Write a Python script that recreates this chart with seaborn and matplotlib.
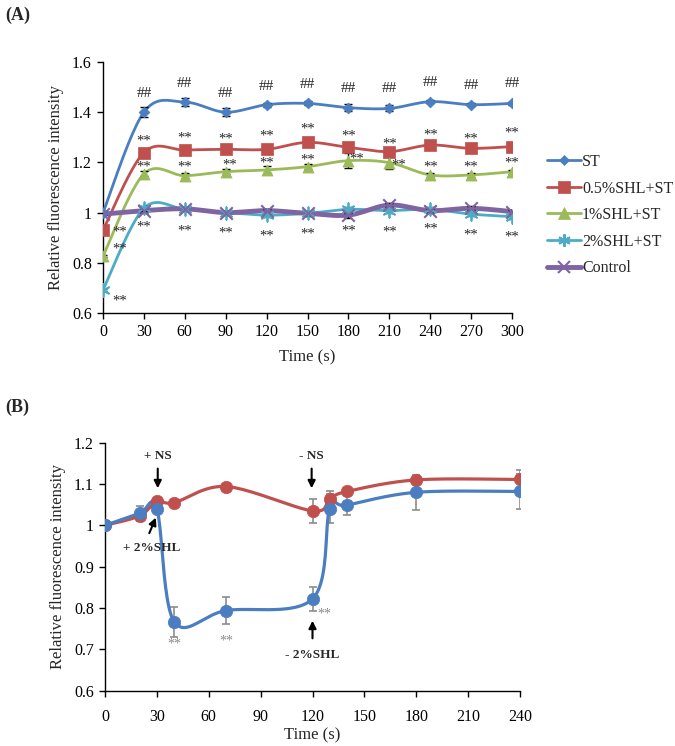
import numpy as np
import pandas as pd
import matplotlib
matplotlib.use("Agg")
import matplotlib.pyplot as plt
from matplotlib.lines import Line2D
from matplotlib.ticker import FuncFormatter, MultipleLocator
import seaborn as sns

# ---------------- Data: panel A ----------------
time_a = [0, 30, 60, 90, 120, 150, 180, 210, 240, 270, 300]
st = [1.00, 1.40, 1.44, 1.40, 1.43, 1.435, 1.418, 1.415, 1.442, 1.430, 1.435]
st_err = [0.005, 0.02, 0.015, 0.015, 0.008, 0.008, 0.015, 0.012, 0.006, 0.006, 0.006]
shl05 = [0.93, 1.239, 1.249, 1.252, 1.252, 1.280, 1.260, 1.243, 1.269, 1.256, 1.263]
shl05_err = [0.005, 0.008, 0.008, 0.008, 0.008, 0.015, 0.010, 0.010, 0.008, 0.008, 0.008]
shl1 = [0.827, 1.154, 1.147, 1.163, 1.170, 1.183, 1.207, 1.199, 1.150, 1.150, 1.163]
shl1_err = [0.005, 0.010, 0.010, 0.010, 0.015, 0.010, 0.030, 0.025, 0.008, 0.008, 0.008]
shl2 = [0.692, 1.017, 1.013, 1.000, 0.990, 0.997, 1.013, 1.008, 1.013, 0.994, 0.984]
shl2_err = [0.005, 0.010, 0.008, 0.008, 0.008, 0.010, 0.008, 0.008, 0.010, 0.008, 0.008]
control = [0.994, 1.008, 1.015, 1.000, 1.008, 0.997, 0.990, 1.030, 1.008, 1.017, 1.004]
control_err = [0.005, 0.008, 0.008, 0.008, 0.008, 0.010, 0.010, 0.008, 0.008, 0.008, 0.008]
series_names = ["ST", "0.5%SHL+ST", "1%SHL+ST", "2%SHL+ST", "Control"]

# annotation positions panel A
hash_y = [None, 1.476, 1.515, 1.476, 1.504, 1.511, 1.495, 1.495, 1.518, 1.508, 1.515]
star_red_y = [0.93, 1.292, 1.305, 1.303, 1.312, 1.340, 1.312, 1.283, 1.316, 1.303, 1.326]
star_red_x = [7, 30, 60, 90, 120, 150, 180, 210, 240, 270, 300]
star_green_y = [0.862, 1.19, 1.19, 1.199, 1.207, 1.216, 1.223, 1.196, 1.19, 1.19, 1.207]
star_green_x = [7, 30, 60, 93, 120, 150, 186, 217, 240, 270, 300]
star_low_y = [0.656, 0.950, 0.933, 0.928, 0.915, 0.924, 0.933, 0.930, 0.941, 0.920, 0.911]
star_low_x = [7, 30, 60, 90, 120, 150, 180, 210, 240, 270, 300]

# ---------------- Data: panel B ----------------
time_b = [0, 20, 30, 40, 70, 120, 130, 140, 180, 240]
ns = [1.000, 1.023, 1.058, 1.055, 1.094, 1.035, 1.064, 1.082, 1.110, 1.111]
ns_err = [0.0, 0.012, 0.0, 0.0, 0.0, 0.030, 0.018, 0.0, 0.010, 0.024]
shl2b = [1.000, 1.029, 1.039, 0.767, 0.794, 0.822, 1.040, 1.049, 1.080, 1.082]
shl2b_err = [0.0, 0.018, 0.0, 0.036, 0.033, 0.028, 0.035, 0.025, 0.043, 0.043]

# ---------------- Style ----------------
sns.set_style("white")
plt.rcParams["font.family"] = ["Liberation Serif", "DejaVu Serif"]
plt.rcParams["mathtext.fontset"] = "stix"

W, H = 675, 746
fig = plt.figure(figsize=(W / 100, H / 100), dpi=100)


def smooth(x, y, n=24):
    """Excel-like smoothed line: cubic Bezier with Catmull-Rom control points."""
    P = np.column_stack([np.asarray(x, float), np.asarray(y, float)])
    m = len(P)
    out = [P[0]]
    t = np.linspace(0, 1, n)[1:]
    for i in range(m - 1):
        p0 = P[i - 1] if i > 0 else P[i]
        p1, p2 = P[i], P[i + 1]
        p3 = P[i + 2] if i + 2 < m else P[i + 1]
        c1 = p1 + (p2 - p0) / 6.0
        c2 = p2 - (p3 - p1) / 6.0
        seg = ((1 - t) ** 3)[:, None] * p1 + (3 * (1 - t) ** 2 * t)[:, None] * c1 \
            + (3 * (1 - t) * t ** 2)[:, None] * c2 + (t ** 3)[:, None] * p2
        out.extend(seg)
    out = np.array(out)
    return out[:, 0], out[:, 1]


def style_axes(ax, xpad):
    for s in ["top", "right"]:
        ax.spines[s].set_visible(False)
    for s in ["left", "bottom"]:
        ax.spines[s].set_color("black")
        ax.spines[s].set_linewidth(1.0)
    ax.tick_params(direction="out", length=4, width=1, colors="black",
                   labelsize=11.5, left=True, bottom=True, pad=4)
    ax.tick_params(axis="x", pad=xpad)
    ax.yaxis.set_major_formatter(FuncFormatter(lambda v, p: "%g" % round(v, 2)))
    ax.grid(False)


# ================= Panel A =================
axA = fig.add_axes([103 / W, 1 - 313 / H, 409 / W, 251 / H])
colors_a = ["#4A7EC0", "#C0504D", "#9BBB59", "#4BACC6", "#8064A2"]
markers_a = ["D", "s", "^", "*", "x"]
msizes = [5.5, 8, 8, 9, 9]
lws = [2.0, 2.0, 2.0, 2.0, 3.5]
data_a = [st, shl05, shl1, shl2, control]
errs_a = [st_err, shl05_err, shl1_err, shl2_err, control_err]

for name, vals, err, c, mk, ms, lw in zip(series_names, data_a, errs_a, colors_a,
                                          markers_a, msizes, lws):
    sx, sy = smooth(time_a, vals)
    df = pd.DataFrame({"t": sx, "v": sy})
    sns.lineplot(data=df, x="t", y="v", ax=axA, color=c, lw=lw, sort=False,
                 estimator=None, zorder=3 if name != "Control" else 4)
    axA.errorbar(time_a, vals, yerr=err, fmt="none", ecolor="black",
                 elinewidth=1, capsize=3, capthick=1, zorder=5)
    pts = pd.DataFrame({"t": time_a, "v": vals})
    if mk == "x":
        sns.scatterplot(data=pts, x="t", y="v", ax=axA, marker="x", s=ms ** 2,
                        color=c, linewidth=1.5, zorder=6)
    elif mk == "*":
        sns.scatterplot(data=pts, x="t", y="v", ax=axA, marker=(6, 2, 0), s=ms ** 2,
                        color=c, linewidth=1.3, zorder=6)
    else:
        sns.scatterplot(data=pts, x="t", y="v", ax=axA, marker=mk, s=ms ** 2,
                        color=c, edgecolor=c, linewidth=0.5, zorder=6)

for x, y in zip(time_a, hash_y):
    if y is not None:
        axA.text(x, y, "##", ha="center", va="center", fontsize=11, zorder=7)
for xs, ys in [(star_red_x, star_red_y), (star_green_x, star_green_y),
               (star_low_x, star_low_y)]:
    for x, y in zip(xs, ys):
        axA.text(x, y - 0.008, "**", ha="left" if x == 7 else "center",
                 va="center", fontsize=10.5, zorder=7)

axA.set_xlim(0, 300)
axA.set_ylim(0.6, 1.6)
axA.set_xticks(time_a)
axA.yaxis.set_major_locator(MultipleLocator(0.2))
style_axes(axA, 4)
axA.set_xlabel("Time (s)", fontsize=12, labelpad=7)
axA.set_ylabel("Relative fluorescence intensity", fontsize=12, labelpad=6)

handles = []
for name, c, mk, ms, lw in zip(series_names, colors_a, markers_a, msizes, lws):
    if mk == "*":
        mk = (6, 2, 0)
    handles.append(Line2D([0], [0], color=c, lw=lw, marker=mk, markersize=ms,
                          markerfacecolor=c, markeredgecolor=c,
                          markeredgewidth=1.5 if mk in ("x", (6, 2, 0)) else 0.5))
fig.legend(handles, series_names, loc="upper left",
           bbox_to_anchor=(547 / W, 1 - 154 / H), frameon=False, fontsize=11.5,
           handlelength=2.1, handletextpad=0.1, labelspacing=0.66,
           borderaxespad=0, borderpad=0)

# ================= Panel B =================
axB = fig.add_axes([105 / W, 1 - 690.7 / H, 415 / W, 248 / H])
for vals, err, c in [(ns, ns_err, "#C0504D"), (shl2b, shl2b_err, "#4A7EC0")]:
    sx, sy = smooth(time_b, vals)
    df = pd.DataFrame({"t": sx, "v": sy})
    sns.lineplot(data=df, x="t", y="v", ax=axB, color=c, lw=2.3, sort=False,
                 estimator=None, zorder=3)
    e = np.array(err)
    mask = e > 0
    axB.errorbar(np.array(time_b)[mask], np.array(vals)[mask], yerr=e[mask],
                 fmt="none", ecolor="#8C8C8C", elinewidth=1.2, capsize=3,
                 capthick=1.2, zorder=2)
    pts = pd.DataFrame({"t": time_b, "v": vals})
    sns.scatterplot(data=pts, x="t", y="v", ax=axB, marker="o", s=80, color=c,
                    edgecolor=c, linewidth=0.5, zorder=5)

axB.set_xlim(0, 240)
axB.set_ylim(0.6, 1.2)
axB.set_xticks(np.arange(0, 241, 30))
axB.yaxis.set_major_locator(MultipleLocator(0.1))
style_axes(axB, 9)
axB.set_xlabel("Time (s)", fontsize=12, labelpad=2)
axB.set_ylabel("Relative fluorescence intensity", fontsize=12, labelpad=6)

# annotations panel B
arrow_kw = dict(arrowstyle="-|>", color="black", lw=1.5, mutation_scale=11)
axB.text(30.5, 1.168, "+ NS", ha="center", va="center", fontsize=9.5,
         fontweight="bold")
axB.annotate("", xy=(30.5, 1.083), xytext=(30.5, 1.144), arrowprops=arrow_kw)
axB.text(119.5, 1.168, "- NS", ha="center", va="center", fontsize=9.5,
         fontweight="bold")
axB.annotate("", xy=(119.5, 1.083), xytext=(119.5, 1.144), arrowprops=arrow_kw)
axB.text(27, 0.945, "+ 2%SHL", ha="center", va="center", fontsize=9.5,
         fontweight="bold")
axB.annotate("", xy=(30, 1.025), xytext=(25, 0.975), arrowprops=arrow_kw)
axB.text(120, 0.686, "- 2%SHL", ha="center", va="center", fontsize=9.5,
         fontweight="bold")
axB.annotate("", xy=(120, 0.776), xytext=(120, 0.72), arrowprops=arrow_kw)
for x, y in [(40, 0.718), (70, 0.727), (127, 0.791)]:
    axB.text(x, y - 0.006, "**", ha="center", va="center", fontsize=10,
             color="#8C8C8C")

# panel labels
fig.text(5 / W, 1 - 15 / H, "(A)", fontsize=13, fontweight="bold", va="center")
fig.text(5 / W, 1 - 407 / H, "(B)", fontsize=13, fontweight="bold", va="center")

fig.savefig("out.png", dpi=100)
